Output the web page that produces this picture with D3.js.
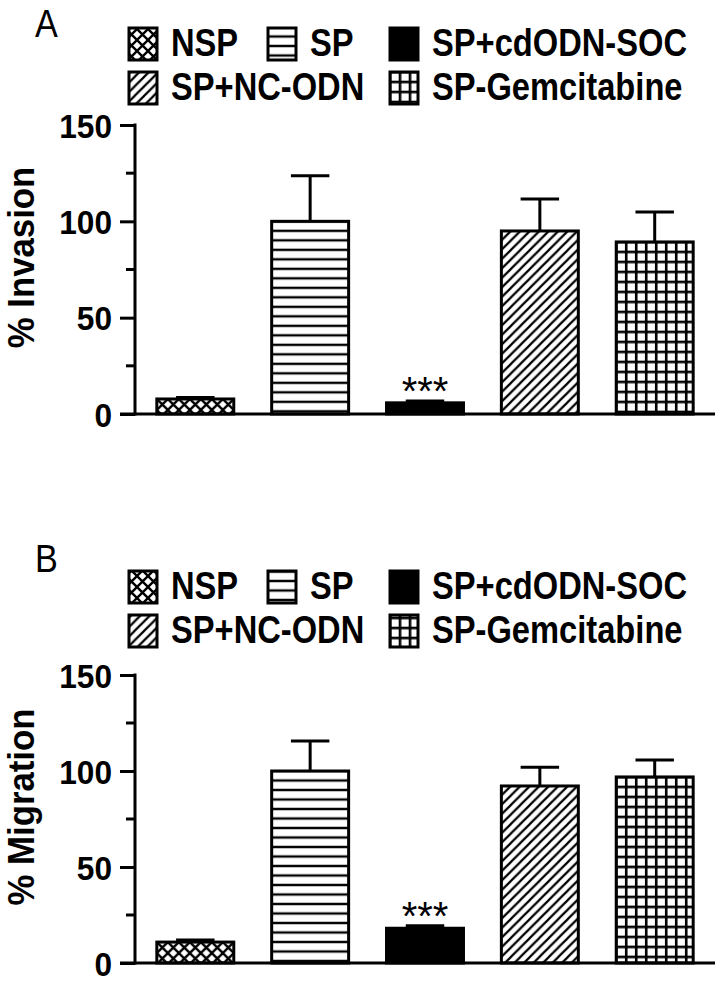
<!DOCTYPE html>
<html>
<head>
<meta charset="utf-8">
<script src="https://cdn.jsdelivr.net/npm/d3@7"></script>
<style>
  html, body { margin: 0; padding: 0; background: #fff; }
  svg { display: block; font-family: "Liberation Sans", Arial, sans-serif; }
</style>
</head>
<body>
<div id="chart"></div>
<script>
(function () {
	// data
	var groups = ['NSP', 'SP', 'SP+cdODN-SOC', 'SP+NC-ODN', 'SP-Gemcitabine'];
	var fills = ['cross', 'hstripe', 'solid', 'diag', 'grid'];
	var invasionMean = [7.8, 100, 5.8, 95, 89.3];
	var invasionErr = [0.8, 23.6, 1, 16.6, 15.5];
	var migrationMean = [10.9, 100, 18.1, 92.2, 96.9];
	var migrationErr = [1.1, 15.6, 1.3, 9.8, 8.8];
	var sigLabels = ['', '', '***', '', ''];
	var majorTicks = [0, 50, 100, 150];
	var minorTicks = [25, 75, 125];

	var width = 724;
	var height = 984;
	var stroke = 3;

	var svg = d3.select('#chart').append('svg')
		.attr('width', width).attr('height', height);
	var defs = svg.append('defs');

	var x = d3.scaleBand()
		.domain(groups)
		.range([135, 715])
		.paddingInner(0.33)
		.paddingOuter(0.19);

	// panels: layout only
	var panels = [
		{ key: 'A', title: 'A', label: '% Invasion', mean: invasionMean, err: invasionErr,
			top: 125, bottom: 414, titleY: 37, rows: [56, 100] },
		{ key: 'B', title: 'B', label: '% Migration', mean: migrationMean, err: migrationErr,
			top: 675, bottom: 963, titleY: 572, rows: [599, 643] }
	];

	///////////////////////////////////////////////////////////////////////////
	////////// patterns ///////////////////////////////////////////////////////
	///////////////////////////////////////////////////////////////////////////
	function makePattern(id, type, x0, y0) {
		if (type === 'solid') return '#000';
		var p;
		if (type === 'cross') {
			var s = 11;
			p = defs.append('pattern').attr('id', id)
				.attr('patternUnits', 'userSpaceOnUse')
				.attr('x', x0).attr('y', y0).attr('width', s).attr('height', s);
			p.append('rect').attr('width', s).attr('height', s).attr('fill', '#fff');
			p.append('path')
				.attr('d', 'M-2,-2 L' + (s + 2) + ',' + (s + 2) + ' M' + (s + 2) + ',-2 L-2,' + (s + 2))
				.attr('stroke', '#000').attr('stroke-width', 2.4);
		} else if (type === 'hstripe') {
			var h = 9.5;
			p = defs.append('pattern').attr('id', id)
				.attr('patternUnits', 'userSpaceOnUse')
				.attr('x', x0).attr('y', y0).attr('width', 10).attr('height', h);
			p.append('rect').attr('width', 10).attr('height', h).attr('fill', '#fff');
			p.append('rect').attr('width', 10).attr('height', 1.2).attr('fill', '#000');
			p.append('rect').attr('y', h - 1.2).attr('width', 10).attr('height', 1.2).attr('fill', '#000');
		} else if (type === 'diag') {
			var d = 9.5;
			p = defs.append('pattern').attr('id', id)
				.attr('patternUnits', 'userSpaceOnUse')
				.attr('x', x0).attr('y', y0).attr('width', d).attr('height', d);
			p.append('rect').attr('width', d).attr('height', d).attr('fill', '#fff');
			p.append('path')
				.attr('d', 'M-2,2 L2,-2 M0,' + d + ' L' + d + ',0 M' + (d - 2) + ',' + (d + 2) + ' L' + (d + 2) + ',' + (d - 2))
				.attr('stroke', '#000').attr('stroke-width', 2.2);
		} else if (type === 'grid') {
			var g = 10;
			p = defs.append('pattern').attr('id', id)
				.attr('patternUnits', 'userSpaceOnUse')
				.attr('x', x0 - 1.3).attr('y', y0 - 1.3).attr('width', g).attr('height', g);
			p.append('rect').attr('width', g).attr('height', g).attr('fill', '#000');
			p.append('rect').attr('x', 2.6).attr('y', 2.6)
				.attr('width', g - 2.6).attr('height', g - 2.6).attr('fill', '#fff');
		}
		return 'url(#' + id + ')';
	}

	///////////////////////////////////////////////////////////////////////////
	////////// draw panels ////////////////////////////////////////////////////
	///////////////////////////////////////////////////////////////////////////
	panels.forEach(function (panel) {
		var g = svg.append('g').classed('panel', true);
		var y = d3.scaleLinear().domain([0, 150]).range([panel.bottom, panel.top]);

		var bars = groups.map(function (name, i) {
			return { name: name, fill: fills[i], mean: panel.mean[i], err: panel.err[i], sig: sigLabels[i], i: i };
		});

		// panel letter
		g.append('text')
			.attr('transform', 'translate(35,' + panel.titleY + ') scale(0.9,1)')
			.attr('font-size', 38)
			.attr('fill', '#000')
			.text(panel.title);

		// legend
		var slots = [[0, 0], [1, 0], [2, 0], [0, 1], [2, 1]];
		var colX = [129, 268, 390];
		var legend = g.append('g').classed('legend', true);
		var items = legend.selectAll('g')
			.data(bars)
			.enter().append('g')
			.attr('transform', function (d) {
				var s = slots[d.i];
				return 'translate(' + [colX[s[0]], panel.rows[s[1]]] + ')';
			});
		items.append('rect')
			.attr('x', 0).attr('y', -28)
			.attr('width', 28).attr('height', 32)
			.attr('fill', function (d) {
				var s = slots[d.i];
				return makePattern('leg-' + panel.key + '-' + d.i, d.fill, colX[s[0]], panel.rows[s[1]] - 28);
			})
			.attr('stroke', '#000').attr('stroke-width', stroke);
		items.append('text')
			.attr('transform', 'translate(42,0) scale(0.86,1)')
			.attr('font-size', 38)
			.attr('font-weight', 'bold')
			.text(function (d) { return d.name; });

		// y axis
		var yAxis = d3.axisLeft(y).tickValues(majorTicks).tickSize(15).tickPadding(8);
		var axisG = g.append('g')
			.attr('transform', 'translate(135,0)')
			.call(yAxis);
		axisG.select('.domain').remove();
		axisG.selectAll('.tick line').attr('stroke', '#000').attr('stroke-width', stroke);
		axisG.selectAll('.tick text').remove();
		axisG.selectAll('.tick').append('text')
			.attr('transform', 'translate(-23,0) scale(0.93,1)')
			.attr('dy', '0.36em')
			.attr('text-anchor', 'end')
			.attr('font-size', 34)
			.attr('font-weight', 'bold')
			.attr('fill', '#000')
			.text(function (d) { return d; });
		axisG.selectAll('.minor')
			.data(minorTicks)
			.enter().append('line')
			.classed('minor', true)
			.attr('x1', -9).attr('x2', 0)
			.attr('y1', function (d) { return y(d); })
			.attr('y2', function (d) { return y(d); })
			.attr('stroke', '#000').attr('stroke-width', stroke);
		g.append('line')
			.attr('x1', 135).attr('x2', 135)
			.attr('y1', y(150) - 1.5).attr('y2', y(0) + 1.5)
			.attr('stroke', '#000').attr('stroke-width', stroke);

		// y label
		g.append('text')
			.attr('transform', 'translate(34,' + ((panel.top + panel.bottom) / 2 - 12) + ') rotate(-90) scale(0.94,1)')
			.attr('text-anchor', 'middle')
			.attr('font-size', 37)
			.attr('font-weight', 'bold')
			.text(panel.label);

		// bars
		g.append('g').classed('bars', true)
			.selectAll('rect')
			.data(bars)
			.enter().append('rect')
			.attr('x', function (d) { return x(d.name); })
			.attr('y', function (d) { return y(d.mean); })
			.attr('width', x.bandwidth())
			.attr('height', function (d) { return y(0) - y(d.mean); })
			.attr('fill', function (d) {
				return makePattern('bar-' + panel.key + '-' + d.i, d.fill, x(d.name), y(d.mean));
			})
			.attr('stroke', '#000').attr('stroke-width', stroke);

		// error bars (upper only)
		var errs = g.append('g').classed('errors', true)
			.selectAll('g')
			.data(bars)
			.enter().append('g')
			.attr('stroke', '#000').attr('stroke-width', stroke);
		errs.append('line')
			.attr('x1', function (d) { return x(d.name) + x.bandwidth() / 2; })
			.attr('x2', function (d) { return x(d.name) + x.bandwidth() / 2; })
			.attr('y1', function (d) { return y(d.mean); })
			.attr('y2', function (d) { return y(d.mean + d.err); });
		errs.append('line')
			.attr('x1', function (d) { return x(d.name) + x.bandwidth() * 0.25; })
			.attr('x2', function (d) { return x(d.name) + x.bandwidth() * 0.75; })
			.attr('y1', function (d) { return y(d.mean + d.err); })
			.attr('y2', function (d) { return y(d.mean + d.err); });

		// x axis line
		g.append('line')
			.attr('x1', 120).attr('x2', 715)
			.attr('y1', y(0)).attr('y2', y(0))
			.attr('stroke', '#000').attr('stroke-width', stroke);

		// significance marks
		g.append('g').classed('sig', true)
			.selectAll('text')
			.data(bars.filter(function (d) { return d.sig; }))
			.enter().append('text')
			.attr('x', function (d) { return x(d.name) + x.bandwidth() / 2; })
			.attr('y', function (d) { return y(d.mean + d.err) + 4; })
			.attr('text-anchor', 'middle')
			.attr('font-size', 40)
			.text(function (d) { return d.sig; });
	});
})();
</script>
</body>
</html>
